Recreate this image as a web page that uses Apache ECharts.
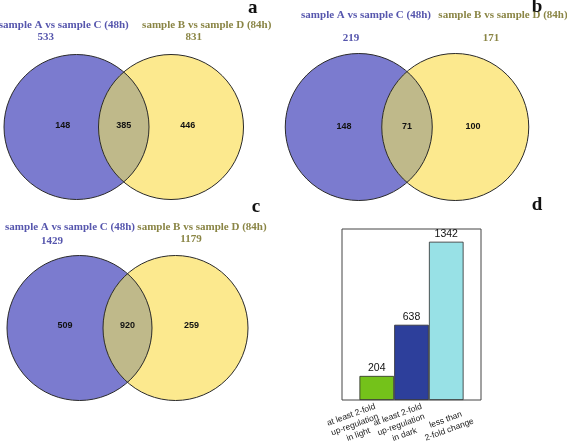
<!DOCTYPE html>
<html><head><meta charset="utf-8">
<script src="https://cdn.jsdelivr.net/npm/echarts@6/dist/echarts.min.js"></script>
<style>html,body{margin:0;padding:0;background:#fff}#c{width:567px;height:441px}</style>
</head><body><div id="c"></div>
<script>
// ---- data ----
const panelLetters = ['a', 'b', 'c'];
const setNames = ['sample A vs sample C (48h)', 'sample B vs sample D (84h)'];
const totalLeft = [533, 219, 1429];
const totalRight = [831, 171, 1179];
const onlyLeft = [148, 148, 509];
const sharedCount = [385, 71, 920];
const onlyRight = [446, 100, 259];
const barLetter = 'd';
const barCategories = ['at least 2-fold\nup-regulation\nin light', 'at least 2-fold\nup-regulation\nin dark', 'less than\n2-fold change'];
const barValues = [204, 638, 1342];

// ---- layout / style ----
const vennLayout = [
  {mid: [123.75, 127], r: 72.5, d: 94.5, lbl: [[-60, -102], [83, -102]], cnt: [[-78, -90], [70, -90]], inner: [-61, 0, 64], iy: -1, letter: [129, -119]},
  {mid: [407, 127], r: 73.5, d: 96.5, lbl: [[-41, -112], [96, -112]], cnt: [[-56, -89], [84, -89]], inner: [-63, 0, 66], iy: 0, letter: [130, -120]},
  {mid: [127.5, 328], r: 72.5, d: 96, lbl: [[-57.5, -101], [74.5, -101]], cnt: [[-75.5, -87], [63.5, -89]], inner: [-62.5, 0, 64], iy: -2, letter: [128.5, -121]}
];
const HALF = 120;
const blueFill = '#7b7bcf', yellowFill = '#fce98e', lensFill = '#bfb98a';
const blueText = '#5656ad', yellowText = '#8a8545';
const barColors = ['#74c21a', '#2d3f9b', '#98e1e6'];

const grids = [], xAxes = [], yAxes = [], series = [];
vennLayout.forEach((L, k) => {
  grids.push({left: L.mid[0] - HALF, top: L.mid[1] - HALF, width: 2 * HALF, height: 2 * HALF, show: false, outerBoundsMode: 'none', containLabel: false});
  xAxes.push({type: 'value', gridIndex: k, min: -HALF, max: HALF, show: false});
  yAxes.push({type: 'value', gridIndex: k, min: -HALF, max: HALF, inverse: true, show: false});
  series.push({
    type: 'custom', xAxisIndex: k, yAxisIndex: k, silent: true, clip: false,
    data: [[0, 0]],
    renderItem: function (params, api) {
      const P = (x, y) => api.coord([x, y]);
      const s = api.size([1, 1])[0];
      const r = L.r, h2 = L.d / 2;
      const cL = P(-h2, 0), cR = P(h2, 0);
      const h = Math.sqrt(r * r - h2 * h2);
      const phi = Math.atan2(h, h2);
      const pts = [];
      const N = 60;
      for (let i = 0; i <= N; i++) {
        const t = -phi + 2 * phi * i / N;
        pts.push(P(-h2 + r * Math.cos(t), r * Math.sin(t)));
      }
      for (let i = 0; i <= N; i++) {
        const t = Math.PI - phi + 2 * phi * i / N;
        pts.push(P(h2 + r * Math.cos(t), r * Math.sin(t)));
      }
      const txt = (pos, text, font, fill) => {
        const p = P(pos[0], pos[1]);
        return {type: 'text', x: p[0], y: p[1], style: {text: String(text), font: font, fill: fill, align: 'center', verticalAlign: 'middle'}};
      };
      const titleFont = 'bold 11px "Liberation Serif"';
      const innerFont = 'bold 9px "Liberation Sans"';
      return {type: 'group', children: [
        {type: 'circle', shape: {cx: cL[0], cy: cL[1], r: r * s}, style: {fill: blueFill}},
        {type: 'circle', shape: {cx: cR[0], cy: cR[1], r: r * s}, style: {fill: yellowFill}},
        {type: 'polygon', shape: {points: pts}, style: {fill: lensFill}},
        {type: 'circle', shape: {cx: cL[0], cy: cL[1], r: r * s}, style: {fill: null, stroke: '#2a2a2a', lineWidth: 1}},
        {type: 'circle', shape: {cx: cR[0], cy: cR[1], r: r * s}, style: {fill: null, stroke: '#2a2a2a', lineWidth: 1}},
        txt([L.inner[0], L.iy], onlyLeft[k], innerFont, '#111'),
        txt([L.inner[1], L.iy], sharedCount[k], innerFont, '#111'),
        txt([L.inner[2], L.iy], onlyRight[k], innerFont, '#111'),
        txt(L.lbl[0], setNames[0], titleFont, blueText),
        txt(L.lbl[1], setNames[1], titleFont, yellowText),
        txt(L.cnt[0], totalLeft[k], titleFont, blueText),
        txt(L.cnt[1], totalRight[k], titleFont, yellowText),
        txt(L.letter, panelLetters[k], 'bold 19px "Liberation Serif"', '#111')
      ]};
    }
  });
});

// bar panel
grids.push({left: 342, top: 229, width: 139, height: 171, show: true, borderColor: '#444', borderWidth: 1, backgroundColor: '#fff', outerBoundsMode: 'none', containLabel: false});
xAxes.push({type: 'value', gridIndex: 3, min: 0, max: 4, interval: 1, show: false});
xAxes.push({type: 'category', gridIndex: 3, data: barCategories, position: 'bottom',
  axisLine: {show: false}, axisTick: {show: false}, splitLine: {show: false},
  axisLabel: {interval: 0, rotate: 20, align: 'center', verticalAlign: 'middle', padding: [0, 22, 0, 0],
    fontSize: 8.5, lineHeight: 10.5, fontFamily: '"Liberation Sans"', color: '#222', margin: 21}});
yAxes.push({type: 'value', gridIndex: 3, min: 0, max: 1450, show: false});
series.push({
  type: 'bar', xAxisIndex: 3, yAxisIndex: 3, barWidth: 34.6, silent: true,
  data: barValues.map((v, i) => ({value: [i + 1, v], itemStyle: {color: barColors[i]}})),
  itemStyle: {borderColor: '#2b2b2b', borderWidth: 0.8},
  label: {show: true, position: 'top', distance: 2, fontSize: 10.5, fontFamily: '"Liberation Sans"', color: '#111'}
});

const chart = echarts.init(document.getElementById('c'), null, {renderer: 'canvas'});
chart.setOption({
  animation: false,
  backgroundColor: '#fff',
  grid: grids, xAxis: xAxes, yAxis: yAxes, series: series,
  graphic: [{type: 'text', x: 537, y: 205, style: {text: barLetter, font: 'bold 19px "Liberation Serif"', fill: '#111', align: 'center', verticalAlign: 'middle'}}]
});
</script>
</body></html>
